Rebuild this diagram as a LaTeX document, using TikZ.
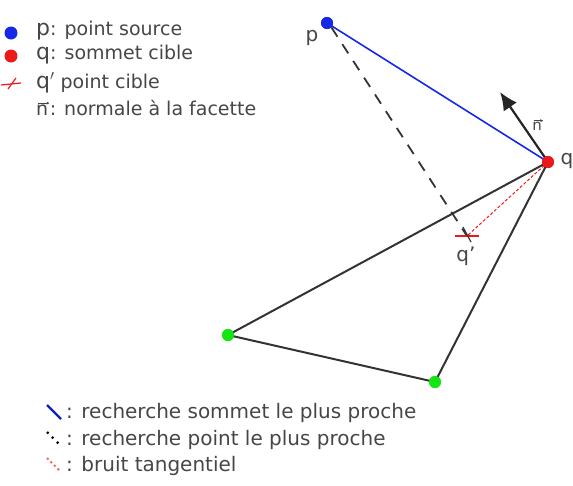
\documentclass[tikz,border=0pt]{standalone}
\usepackage{fontspec}
\setmainfont{DejaVu Sans}
\usetikzlibrary{arrows.meta,calc}
\definecolor{dotblue}{RGB}{20,40,230}
\definecolor{dotred}{RGB}{235,25,25}
\definecolor{dotgreen}{RGB}{20,230,20}
\definecolor{txtgray}{RGB}{70,70,70}
\newcommand{\nvec}{\tikz[baseline=0pt,x=1pt,y=1pt]{\node[inner sep=0pt,anchor=base west] (nn) at (0,0) {n};\draw[line width=0.7pt,-{Stealth[length=3pt,width=3pt]}] ($(nn.north west)+(1.5,1.5)$) -- ($(nn.north east)+(1,1.5)$);}}
\newcommand{\bigletter}[1]{{\fontsize{22}{23}\selectfont #1}}
\begin{document}
\begin{tikzpicture}[x=1pt,y=-1pt,
  dotst/.style={circle,inner sep=0pt,minimum size=12pt},
  edge/.style={draw=black!80,line width=2pt},
  legtxt/.style={anchor=west,inner sep=0pt,text=txtgray,font=\fontsize{19}{20}\selectfont},
  botleg/.style={anchor=west,inner sep=0pt,text=txtgray,font=\fontsize{20}{21}\selectfont},
  lbl/.style={inner sep=0pt,text=txtgray,font=\fontsize{20}{22}\selectfont}]
\useasboundingbox (0,0) rectangle (573,485);
% points
\node[dotst,fill=dotblue] (p) at (327,23) {};
\node[dotst,fill=dotred] (q) at (548,162) {};
\node[dotst,fill=dotgreen] (g1) at (228,335) {};
\node[dotst,fill=dotgreen] (g2) at (435,382) {};
\coordinate (qp) at (467,236);
\coordinate (ntip) at (500,92);
% triangle
\draw[edge] (q.center) -- (g1.center) -- (g2.center) -- (q.center);
% blue line
\draw[dotblue,line width=1.6pt] (p.center) -- (q.center);
% dashed black
\draw[black!80,line width=1.8pt,dash pattern=on 11pt off 9pt] (p.south east) -- (qp);
% red dashed
\draw[dotred,line width=1pt,dash pattern=on 3pt off 2pt] (q.center) -- (qp);
% cross
\draw[dotred,line width=1.2pt] ($(qp)+(-12,0)$) -- ($(qp)+(12,0)$);
\draw[black!80,line width=1.2pt] ($(qp)+(-4,-9)$) -- ($(qp)+(4,6)$);
% normal
\draw[black!85,line width=2.2pt,-{Latex[length=18pt,width=16pt]}] (q.center) -- (ntip);
% re-draw dots on top
\node[dotst,fill=dotblue] at (p) {};
\node[dotst,fill=dotred] at (q) {};
\node[dotst,fill=dotgreen] at (g1) {};
\node[dotst,fill=dotgreen] at (g2) {};
% labels
\node[lbl] (lp) at (312,38) {p};
\node[lbl] (lq) at (567,161) {q};
\node[lbl] (lqp) at (466,256) {q'};
\node[lbl,font=\fontsize{15}{16}\selectfont] (ln) at (538,125) {\nvec};
% top legend
\node[dotst,fill=dotblue,minimum size=13pt] (l1d) at (11,33) {};
\node[legtxt] (l1) at (36,31) {\bigletter{p}: point source};
\node[dotst,fill=dotred,minimum size=13pt] (l2d) at (11,56) {};
\node[legtxt] (l2) at (36,55) {\bigletter{q}: sommet cible};
\coordinate (l3c) at (11,83);
\draw[dotred,line width=1.2pt] ($(l3c)+(-10,2)$) -- ($(l3c)+(10,0)$);
\draw[dotred,line width=1.2pt] ($(l3c)+(-3,6)$) -- ($(l3c)+(5,-5)$);
\node[legtxt] (l3) at (36,83) {\bigletter{q$'$} point cible};
\node[legtxt] (l4) at (36,108) {\nvec: normale à la facette};
% bottom legend
\coordinate (b1s) at (47,405); \coordinate (b1e) at (61,419);
\draw[dotblue!80!black,line width=2.2pt] (b1s) -- (b1e);
\node[botleg] (b1) at (66,413) {: recherche sommet le plus proche};
\coordinate (b2s) at (47,432); \coordinate (b2e) at (61,446);
\draw[black,line width=2.2pt,dash pattern=on 2pt off 5pt] (b2s) -- (b2e);
\node[botleg] (b2) at (66,440) {: recherche point le plus proche};
\coordinate (b3s) at (47,458); \coordinate (b3e) at (61,472);
\draw[dotred!70,line width=1.8pt,dash pattern=on 2pt off 3pt] (b3s) -- (b3e);
\node[botleg] (b3) at (66,466) {: bruit tangentiel};
\end{tikzpicture}
\end{document}
